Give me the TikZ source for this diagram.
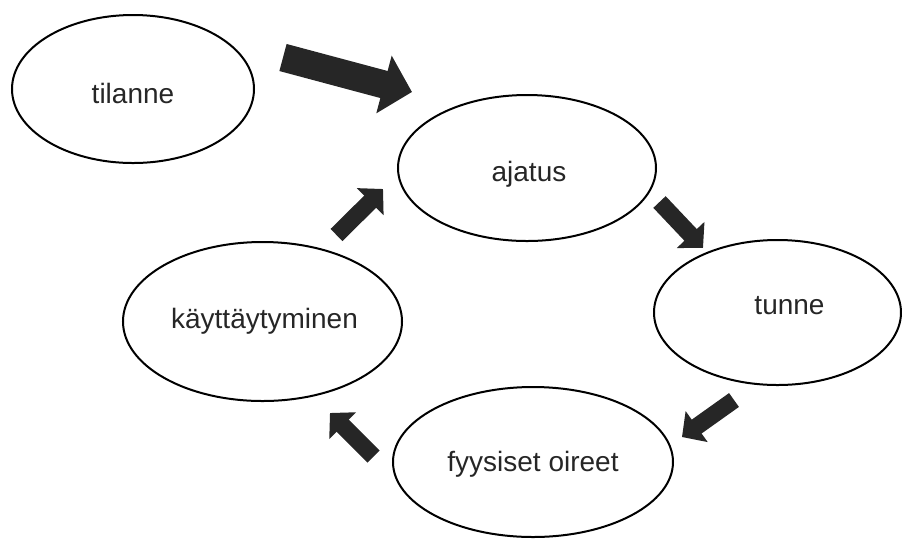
\documentclass[tikz,border=0pt]{standalone}
\usepackage{fontspec}
\setmainfont{Liberation Sans}
\usetikzlibrary{shapes.geometric}
\usetikzlibrary{arrows.meta}

\tikzset{
  word/.style={font=\fontsize{14}{16}\selectfont, text=black!85},
  bubble/.style={draw, ellipse, line width=1pt, inner sep=0pt},
  fat/.style={draw=black!85, line width=8.5pt, -{Triangle[width=18.5pt,length=9pt]}},
  bigfat/.style={draw=black!85, line width=14pt, -{Triangle[width=29pt,length=14.5pt]}}
}

\begin{document}
\begin{tikzpicture}[x=0.5pt,y=-0.5pt]
\useasboundingbox (0,0) rectangle (902,538);

% the five bubbles, text a bit off centre as in the sketch
\node[bubble, minimum width=121pt, minimum height=74pt,
      label={[word, yshift=-2pt]center:tilanne}] (tilanne) at (133,89) {};
\node[bubble, minimum width=129pt, minimum height=73pt,
      label={[word, xshift=1pt, yshift=-3pt]center:ajatus}] (ajatus) at (527,168) {};
\node[bubble, minimum width=123.5pt, minimum height=72.5pt,
      label={[word, xshift=6pt, yshift=3.5pt]center:tunne}] (tunne) at (777.5,312.5) {};
\node[bubble, minimum width=140pt, minimum height=75pt,
      label={[word, yshift=-1pt]center:fyysiset oireet}] (oireet) at (533,462) {};
\node[bubble, minimum width=139.5pt, minimum height=79.5pt,
      label={[word, xshift=1pt]center:käyttäytyminen}] (kaytos) at (262.5,321.5) {};

% arrow ends
\coordinate (s0) at (283,57.5);   \coordinate (e0) at (412,92);
\coordinate (s1) at (659.5,202);  \coordinate (e1) at (703,248);
\coordinate (s2) at (734,400);    \coordinate (e2) at (682,437);
\coordinate (s3) at (373.5,456.5);\coordinate (e3) at (330,413);
\coordinate (s4) at (336.5,235);  \coordinate (e4) at (383,189);

% the cycle
\draw[bigfat] (s0) -- (e0);
\draw[fat] (s1) -- (e1);
\draw[fat] (s2) -- (e2);
\draw[fat] (s3) -- (e3);
\draw[fat] (s4) -- (e4);
\end{tikzpicture}
\end{document}
